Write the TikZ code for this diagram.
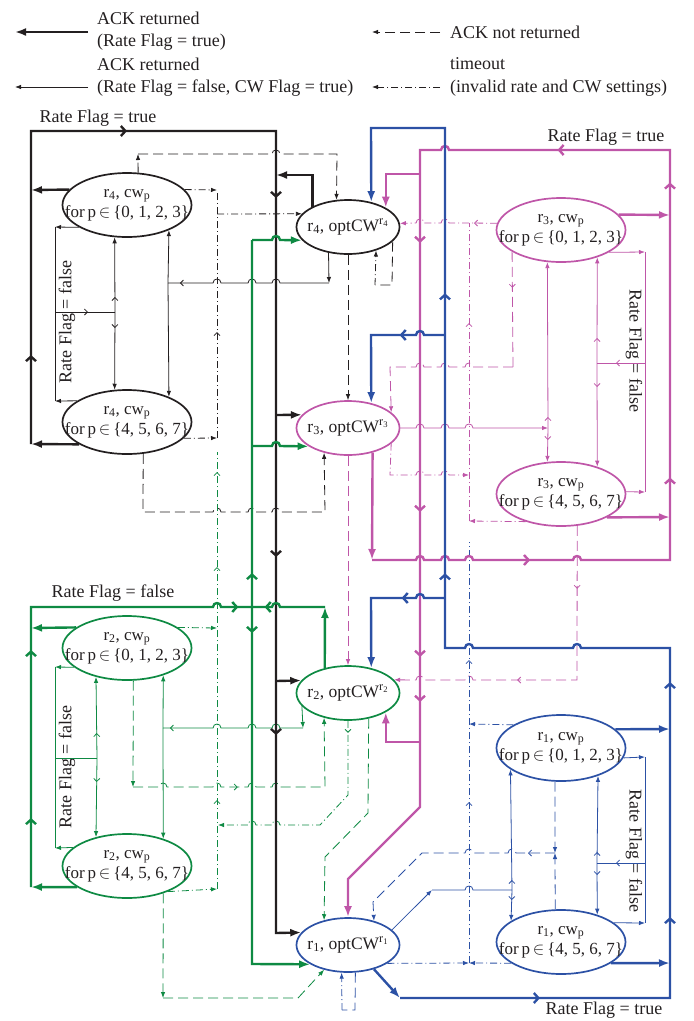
\documentclass[tikz,border=0pt]{standalone}
\usepackage{fontspec}
\setmainfont{Liberation Serif}
\usetikzlibrary{arrows.meta,shapes.geometric,decorations.markings}
\definecolor{rblk}{HTML}{231F20}
\definecolor{rgrn}{HTML}{0E8A43}
\definecolor{rmag}{HTML}{BF56A8}
\definecolor{rblu}{HTML}{2C51A5}
\tikzset{
  thk/.style={line width=2.4pt},
  thn/.style={line width=0.8pt},
  dsh/.style={line width=0.8pt, dash pattern=on 10pt off 5pt},
  ddt/.style={line width=0.8pt, dash pattern=on 7pt off 3pt on 1pt off 3pt},
  arrT/.style={-{Latex[length=11pt,width=8pt]}},
  arr/.style={-{Latex[length=6pt,width=4.5pt]}},
  ma/.style={postaction={decorate,decoration={markings,mark=at position #1pt with {\arrow{Straight Barb[length=3pt,width=6pt]}}}}},
  mr/.style={postaction={decorate,decoration={markings,mark=at position #1pt with {\arrowreversed{Straight Barb[length=3pt,width=6pt]}}}}},
  mab/.style={postaction={decorate,decoration={markings,mark=at position #1pt with {\arrow{Straight Barb[length=4.5pt,width=10pt]}}}}},
  mrb/.style={postaction={decorate,decoration={markings,mark=at position #1pt with {\arrowreversed{Straight Barb[length=4.5pt,width=10pt]}}}}},
  bigell/.style={ellipse, line width=1.7pt, minimum width=129pt, minimum height=64pt,
    inner xsep=-17pt, inner ysep=0pt, align=center, text=rblk, font=\fontsize{17}{20}\selectfont},
  optell/.style={ellipse, line width=1.7pt, minimum width=103pt, minimum height=54pt,
    inner xsep=-7pt, inner ysep=0pt, text=rblk, font=\fontsize{17.5}{19}\selectfont},
  lbl/.style={font=\fontsize{18}{21}\selectfont, inner sep=0pt, text=rblk}
}
% hop over a vertical line, going right / going left
\newcommand\hopr[2]{-- ({#1-4},#2) .. controls ({#1-4},{#2-5.3}) and ({#1+4},{#2-5.3}) .. ({#1+4},#2)}
\newcommand\hopl[2]{-- ({#1+4},#2) .. controls ({#1+4},{#2-5.3}) and ({#1-4},{#2-5.3}) .. ({#1-4},#2)}

\begin{document}
\begin{tikzpicture}[x=1pt,y=-1pt]
  \useasboundingbox (0,0) rectangle (694,1021);

  % legend
  \coordinate (la1) at (88,32);  \coordinate (la2) at (15,32);
  \coordinate (la3) at (88,87);  \coordinate (la4) at (15,87);
  \coordinate (la5) at (440,32); \coordinate (la6) at (372,32);
  \coordinate (la7) at (440,87); \coordinate (la8) at (372,87);
  \draw[thk,rblk,arrT] (la1) -- (la2);
  \draw[thn,rblk,arr] (la3) -- (la4);
  \draw[dsh,rblk,arr] (la5) -- (la6);
  \draw[ddt,rblk,arr] (la7) -- (la8);
  \node[lbl,anchor=west] (lt1) at (97,18) {ACK returned};
  \node[lbl,anchor=west] (lt2) at (97,42) {(Rate Flag = true)};
  \node[lbl,anchor=west] (lt3) at (97,64) {ACK returned};
  \node[lbl,anchor=west] (lt4) at (97,88) {(Rate Flag = false, CW Flag = true)};
  \node[lbl,anchor=west] (lt5) at (450,32) {ACK not returned};
  \node[lbl,anchor=west] (lt6) at (450,64) {timeout};
  \node[lbl,anchor=west] (lt7) at (450,88) {(invalid rate and CW settings)};

  % states
  \node[bigell,draw=rblk] (E4a) at (127,205) {r\textsubscript{4}, cw\textsubscript{p}\\for\,p\,$\in$\,\{0, 1, 2, 3\}};
  \node[bigell,draw=rblk] (E4b) at (127,422) {r\textsubscript{4}, cw\textsubscript{p}\\for\,p\,$\in$\,\{4, 5, 6, 7\}};
  \node[bigell,draw=rgrn] (E2a) at (127,648) {r\textsubscript{2}, cw\textsubscript{p}\\for\,p\,$\in$\,\{0, 1, 2, 3\}};
  \node[bigell,draw=rgrn] (E2b) at (127,866) {r\textsubscript{2}, cw\textsubscript{p}\\for\,p\,$\in$\,\{4, 5, 6, 7\}};
  \node[bigell,draw=rmag] (E3a) at (561,230) {r\textsubscript{3}, cw\textsubscript{p}\\for\,p\,$\in$\,\{0, 1, 2, 3\}};
  \node[bigell,draw=rmag] (E3b) at (561,494) {r\textsubscript{3}, cw\textsubscript{p}\\for\,p\,$\in$\,\{4, 5, 6, 7\}};
  \node[bigell,draw=rblu,minimum height=66pt] (E1a) at (561,748) {r\textsubscript{1}, cw\textsubscript{p}\\for\,p\,$\in$\,\{0, 1, 2, 3\}};
  \node[bigell,draw=rblu] (E1b) at (561,942) {r\textsubscript{1}, cw\textsubscript{p}\\for\,p\,$\in$\,\{4, 5, 6, 7\}};
  \node[optell,draw=rblk] (O4) at (348,227) {r\textsubscript{4}, optCW\textsuperscript{r\textsubscript{4}}};
  \node[optell,draw=rmag] (O3) at (348,428) {r\textsubscript{3}, optCW\textsuperscript{r\textsubscript{3}}};
  \node[optell,draw=rgrn] (O2) at (348,693) {r\textsubscript{2}, optCW\textsuperscript{r\textsubscript{2}}};
  \node[optell,draw=rblu] (O1) at (348,945) {r\textsubscript{1}, optCW\textsuperscript{r\textsubscript{1}}};

  % labels
  \node[lbl] (t1) at (98,118) {Rate Flag = true};
  \node[lbl] (t2) at (606,137) {Rate Flag = true};
  \node[lbl] (t3) at (604,1010) {Rate Flag = true};
  \node[lbl] (t4) at (113,593) {Rate Flag = false};
  \node[lbl,rotate=90] (t5) at (67,322) {Rate Flag = false};
  \node[lbl,rotate=90] (t6) at (67,767) {Rate Flag = false};
  \node[lbl,rotate=-90] (t7) at (634,351) {Rate Flag = false};
  \node[lbl,rotate=-90] (t8) at (634,851) {Rate Flag = false};

  % junction points
  \coordinate (bk1) at (31,444);  \coordinate (bk2) at (31,190);
  \coordinate (bk3) at (276,175); \coordinate (bk4) at (276,415);
  \coordinate (bk5) at (276,681); \coordinate (bk6) at (276,933);
  \coordinate (gk1) at (31,628);  \coordinate (gk2) at (31,887);
  \coordinate (gk3) at (252,607); \coordinate (gk4) at (325,607);
  \coordinate (gk5) at (252,240); \coordinate (gk6) at (252,964);
  \coordinate (gk7) at (252,446);
  \coordinate (mk1) at (372,560); \coordinate (mk2) at (420,174);
  \coordinate (mk3) at (420,742); \coordinate (mk4) at (670,215);
  \coordinate (mk5) at (670,517);
  \coordinate (bu1) at (400,998); \coordinate (bu2) at (445,335);
  \coordinate (bu3) at (445,598); \coordinate (bu4) at (670,729);
  \coordinate (bu5) at (670,963);
  \coordinate (bn1) at (329,283); \coordinate (bn2) at (168,283);
  \coordinate (bn3) at (115,312); \coordinate (bn4) at (55,227);
  \coordinate (bn5) at (55,401);  \coordinate (bn6) at (55,312);
  \coordinate (gn1) at (303,728); \coordinate (gn2) at (163,728);
  \coordinate (gn3) at (97,758);  \coordinate (gn4) at (55,667);
  \coordinate (gn5) at (55,848);  \coordinate (gn6) at (55,758);
  \coordinate (mn1) at (548,428); \coordinate (mn2) at (597,363);
  \coordinate (mn3) at (645,252); \coordinate (mn4) at (645,492);
  \coordinate (mn5) at (645,363);
  \coordinate (un1) at (432,890); \coordinate (un2) at (512,890);
  \coordinate (un3) at (597,863); \coordinate (un4) at (645,757);
  \coordinate (un5) at (645,923); \coordinate (un6) at (645,863);
  \coordinate (bd1) at (138,154); \coordinate (bd2) at (375,285);
  \coordinate (bt1) at (217,190); \coordinate (bt2) at (217,438);
  \coordinate (bt3) at (217,214);
  \coordinate (gd1) at (133,787); \coordinate (gd2) at (163,998);
  \coordinate (gt1) at (217,628); \coordinate (gt2) at (217,889);
  \coordinate (gt3) at (217,452); \coordinate (gt4) at (218,825);
  \coordinate (md1) at (513,367);
  \coordinate (mt1) at (469,475); \coordinate (mt2) at (469,223);
  \coordinate (mt3) at (469,521);
  \coordinate (ud1) at (555,853); \coordinate (ud2) at (342,1010);
  \coordinate (ut1) at (469,724); \coordinate (ut2) at (469,963);
  \coordinate (ut3) at (469,542);

  % thin (rate flag false, cw flag true)
  \draw[thn,rblk,arr] (O4.-127) -- (bn1);
  \draw[thn,rblk,ma=163] (bn1) \hopl{276}{283} \hopl{252}{283} \hopl{217}{283} -- (bn2);
  \draw[thn,rblk,arr] (bn2) -- (E4a.-31);
  \draw[thn,rblk,arr] (bn2) -- (E4b.31);
  \draw[thn,rblk,ma=15,arr] (bn3) -- (E4a.-111);
  \draw[thn,rblk,ma=16,arr] (bn3) -- (E4b.111);
  \draw[thn,rblk,arr] (E4a.-155) -- (bn4);
  \draw[thn,rblk,arr] (E4b.157) -- (bn5);
  \draw[thn,rblk] (bn4) -- (bn5);
  \draw[thn,rblk,ma=33] (bn6) -- (bn3);

  \draw[thn,rgrn,arr] (O2.-164) -- (gn1);
  \draw[thn,rgrn,ma=147] (gn1) \hopl{276}{728} \hopl{252}{728} \hopl{217}{728} -- (gn2);
  \draw[thn,rgrn,arr] (gn2) -- (E2a.-37);
  \draw[thn,rgrn,arr] (gn2) -- (E2b.37);
  \draw[thn,rgrn,ma=25,arr] (gn3) -- (E2a.-137);
  \draw[thn,rgrn,ma=24,arr] (gn3) -- (E2b.137);
  \draw[thn,rgrn,arr] (E2a.-160) -- (gn4);
  \draw[thn,rgrn,arr] (E2b.161) -- (gn5);
  \draw[thn,rgrn] (gn4) -- (gn5);
  \draw[thn,rgrn] (gn6) -- (gn3);

  \draw[thn,rmag,arr] (O3.0) \hopr{420}{428} \hopr{445}{428} \hopr{469}{428} -- (mn1);
  \draw[thn,rmag,ma=11,arr] (mn1) -- (E3a.-113);
  \draw[thn,rmag,ma=12,arr] (mn1) -- (E3b.113);
  \draw[thn,rmag,ma=25,arr] (mn2) -- (E3a.-37);
  \draw[thn,rmag,ma=24,arr] (mn2) -- (E3b.37);
  \draw[thn,rmag,arr] (E3a.-25) -- (mn3);
  \draw[thn,rmag,arr] (E3b.2) -- (mn4);
  \draw[thn,rmag] (mn3) -- (mn4);
  \draw[thn,rmag,ma=29] (mn5) -- (mn2);

  \draw[thn,rblu,arr] (O1.19) -- (un1);
  \draw[thn,rblu] (un1) \hopr{469}{890} -- (un2);
  \draw[thn,rblu,ma=10,arr] (un2) -- (E1a.-157);
  \draw[thn,rblu,ma=10,arr] (un2) -- (E1b.157);
  \draw[thn,rblu,ma=11,arr] (un3) -- (E1a.-37);
  \draw[thn,rblu,ma=12,arr] (un3) -- (E1b.37);
  \draw[thn,rblu,arr] (E1a.-9) -- (un4);
  \draw[thn,rblu,arr] (E1b.20) -- (un5);
  \draw[thn,rblu] (un4) -- (un5);
  \draw[thn,rblu,ma=29] (un6) -- (un3);

  % dashed (ACK not returned)
  \draw[dsh,rblk,arr] (E4a.71) -- (bd1);
  \draw[dsh,rblk,arr] (bd1) \hopr{276}{154} -- (337,154) -- (O4.113);
  \draw[dsh,rblk,arr] (E4b.-63) -- (143,512) \hopr{217}{512} \hopr{252}{512} \hopr{276}{512} -- (325,512) -- (O3.-134);
  \draw[dsh,rblk,arr] (O4.south) -- (O3.north);
  \draw[dsh,rblk] (O4.-18) -- (392,285) -- (bd2);

  \draw[dsh,rgrn,arr] (E2a.-79) -- (gd1);
  \draw[dsh,rgrn,ma=114,arr] (gd1) \hopr{163}{787} \hopr{217}{787} \hopr{252}{787} \hopr{276}{787} -- (325,787) -- (O2.-134);
  \draw[dsh,rgrn,arr] (E2b.-37) -- (gd2);
  \draw[dsh,rgrn,arr] (gd2) -- (298,998) -- (O1.-134);
  \draw[dsh,rgrn,arr] (O2.-51) -- (368,813) -- (325,857) -- (O1.134);

  \draw[dsh,rmag,ma=36] (E3a.-156) -- (md1);
  \draw[dsh,rmag,arr] (md1) \hopl{469}{367} \hopl{445}{367} \hopl{420}{367} -- (390,367) -- (O3.20);
  \draw[dsh,rmag,ma=63,ma=214,arr] (E3b.-63) -- (577,680) \hopl{469}{680} \hopl{420}{680} -- (O2.16);
  \draw[dsh,rmag,arr] (O3.south) -- (O2.north);

  \draw[dsh,rblu,arr] (E1a.-100) -- (ud1);
  \draw[dsh,rblu,arr] (E1b.100) -- (ud1);
  \draw[dsh,rblu,ma=27,arr] (ud1) \hopl{512}{853} \hopl{469}{853} -- (422,853) -- (373,902) -- (O1.43);
  \draw[dsh,rblu] (O1.-75) -- (355,1010) -- (ud2);

  % dash-dot (timeout)
  \draw[ddt,rblk,arr] (bd2) -- (O4.-40);
  \draw[ddt,rblk,arr] (E4a.15) -- (bt1);
  \draw[ddt,rblk,arr] (E4b.-16) -- (bt2);
  \draw[ddt,rblk,ma=106] (bt2) -- (bt1);
  \draw[ddt,rblk,arr] (bt3) -- (O4.164);

  \draw[ddt,rgrn,arr] (E2a.22) -- (gt1);
  \draw[ddt,rgrn,arr] (E2b.-32) -- (gt2);
  \draw[ddt,rgrn,ma=89,ma=322,ma=417] (gt2) -- (gt3);
  \draw[ddt,rgrn,ma=12,arr] (O2.south) -- (348,795) -- (320,825) \hopl{276}{825} \hopl{252}{825} -- (gt4);

  \draw[ddt,rmag,arr] (O3.-20) -- (390,475) \hopr{420}{475} \hopr{445}{475} -- (mt1);
  \draw[ddt,rmag,ma=23,arr] (E3a.174) -- (mt2) \hopl{445}{223} \hopl{420}{223} -- (O4.4);
  \draw[ddt,rmag,arr] (E3b.-142) -- (mt3);
  \draw[ddt,rmag,ma=198] (mt3) -- (mt2);

  \draw[ddt,rblu,arr] (ud2) -- (O1.-103);
  \draw[ddt,rblu,arr] (E1a.154) -- (ut1);
  \draw[ddt,rblu,arr] (E1b.-157) -- (ut2);
  \draw[ddt,rblu,arr] (O1.-25) -- (ut2);
  \draw[ddt,rblu,ma=161,ma=303] (ut2) -- (ut3);

  % thick (rate flag true)
  \draw[thk,rblk,arrT] (E4a.165) -- (bk2);
  \draw[thk,rblk,arrT] (E4b.-155) -- (bk1);
  \draw[thk,rblk,mab=89,mab=409,mab=625,mab=984,mab=1162,arrT] (bk1) -- (31,131) -- (276,131) -- (bk6) -- (O1.165);
  \draw[thk,rblk,arrT] (O4.150) |- (bk3);
  \draw[thk,rblk,arrT] (bk4) -- (O3.164);
  \draw[thk,rblk,arrT] (bk5) -- (O2.165);

  \draw[thk,rgrn,arrT] (E2a.158) -- (gk1);
  \draw[thk,rgrn,arrT] (E2b.-157) -- (gk2);
  \draw[thk,rgrn,mab=69,mab=237,mab=492] (gk2) -- (31,607) \hopr{217}{607} -- (gk3);
  \draw[thk,rgrn,arrT] (O2.133) -- (gk4);
  \draw[thk,rgrn,mab=65] (gk4) \hopl{276}{607} -- (gk3);
  \draw[thk,rgrn,mrb=333,mab=393,arrT] (gk5) -- (gk6) -- (O1.-153);
  \draw[thk,rgrn,arrT] (gk5) \hopr{276}{240} -- (O4.-164);
  \draw[thk,rgrn,arrT] (gk7) \hopr{276}{446} -- (O3.-155);

  \draw[thk,rmag,arrT] (O3.-45) -- (mk1);
  \draw[thk,rmag,mab=172,mab=399,mab=694,mab=839,mab=1074,mab=1343,mab=1488,mab=1533,arrT]
    (mk1) \hopr{420}{560} \hopr{445}{560} \hopr{469}{560} \hopr{577}{560} -- (670,560) -- (670,150)
    \hopl{445}{150} -- (420,150) -- (420,807) -- (348,879) -- (O1.north);
  \draw[thk,rmag,arrT] (mk2) -| (O4.27);
  \draw[thk,rmag,arrT] (mk3) -| (O2.-27);
  \draw[thk,rmag,arrT] (E3a.15) -- (mk4);
  \draw[thk,rmag,arrT] (E3b.-27) -- (mk5);

  \draw[thk,rblu,arrT] (O1.-43) -- (bu1);
  \draw[thk,rblu,mab=140,mab=351,mab=586,mab=929,mab=1209,arrT]
    (bu1) -- (670,998) -- (670,648) \hopl{577}{648} \hopl{469}{648} -- (445,648) -- (445,128) -- (371,128) -- (O4.47);
  \draw[thk,rblu,mab=50,arrT] (bu2) \hopl{420}{335} -- (371,335) -- (O3.47);
  \draw[thk,rblu,mab=48,arrT] (bu3) \hopl{420}{598} -- (371,598) -- (O2.47);
  \draw[thk,rblu,arrT] (E1a.19) -- (bu4);
  \draw[thk,rblu,arrT] (E1b.-23) -- (bu5);
\end{tikzpicture}
\end{document}
